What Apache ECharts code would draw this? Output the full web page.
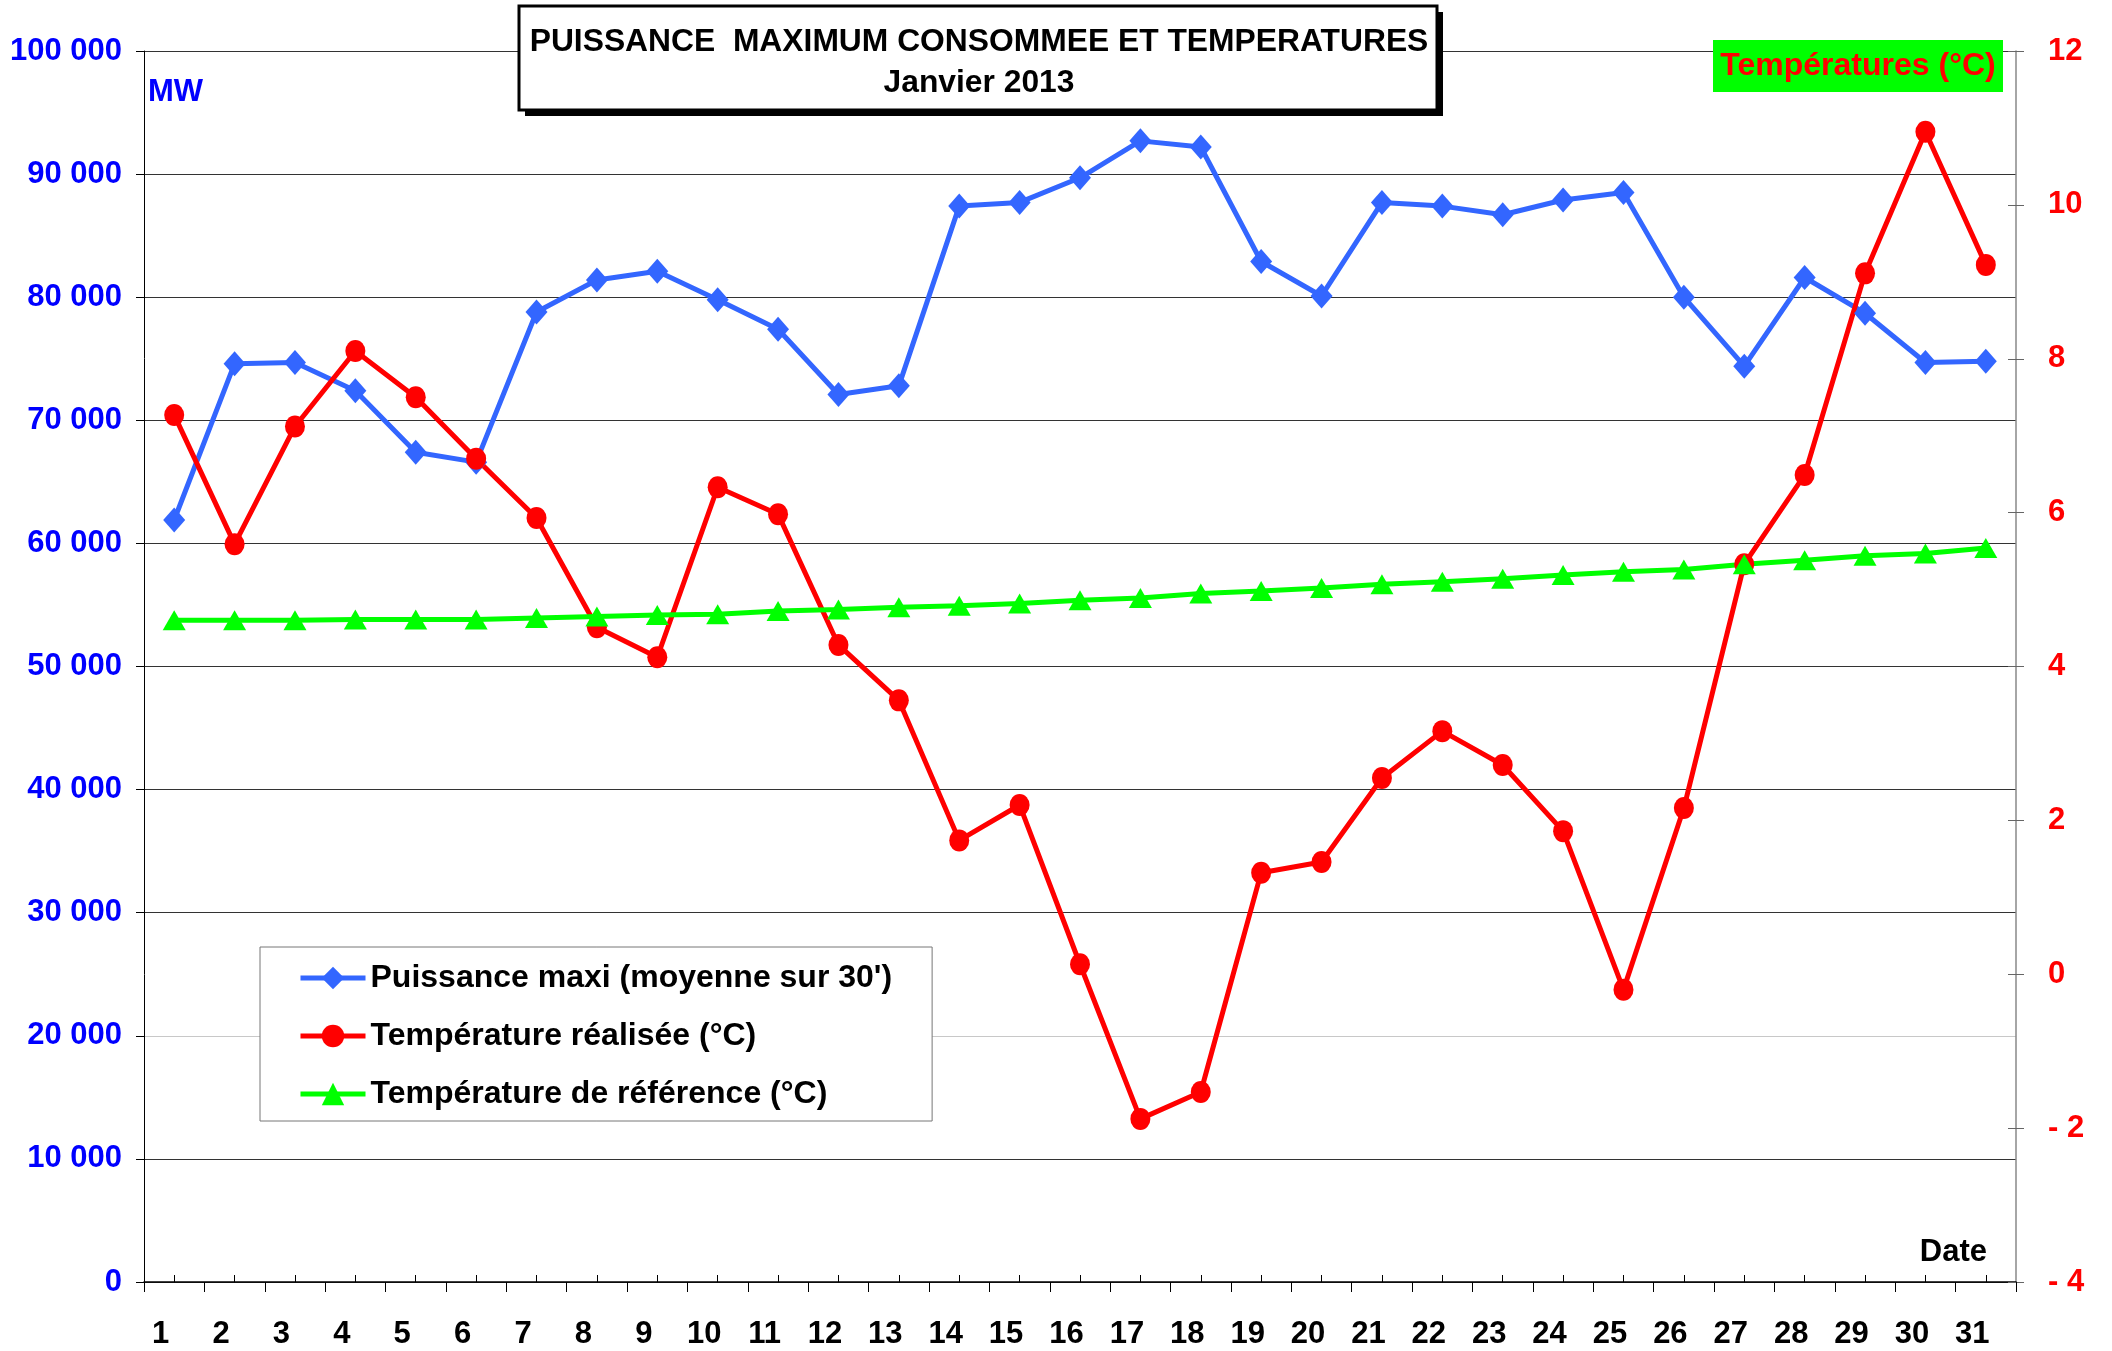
<!DOCTYPE html>
<html>
<head>
<meta charset="utf-8">
<title>Puissance maximum consommée et températures - Janvier 2013</title>
<script src="https://cdn.jsdelivr.net/npm/echarts@6/dist/echarts.min.js"></script>
<style>
  html, body { margin: 0; padding: 0; background: #fff; }
  #chart { width: 2112px; height: 1351px; }
</style>
</head>
<body>
<div id="chart"></div>
<script>
'use strict';
{
    // jours de janvier 2013
    const days = ['1','2','3','4','5','6','7','8','9','10','11','12','13','14','15','16',
        '17','18','19','20','21','22','23','24','25','26','27','28','29','30','31'];
    // puissance maxi (MW, moyenne sur 30')
    const puissance = [61900, 74600, 74700, 72400, 67400, 66600, 78800, 81400, 82100, 79800,
        77400, 72100, 72800, 87400, 87700, 89700, 92700, 92200, 82900, 80100,
        87700, 87400, 86700, 87900, 88500, 80000, 74400, 81600, 78700, 74700, 74800];
    // température réalisée (°C)
    const tempRealisee = [7.27, 5.59, 7.12, 8.10, 7.50, 6.70, 5.93, 4.51, 4.12, 6.33,
        5.98, 4.28, 3.56, 1.74, 2.20, 0.13, -1.88, -1.53, 1.32, 1.46,
        2.55, 3.16, 2.72, 1.86, -0.20, 2.16, 5.33, 6.49, 9.11, 10.95, 9.22];
    // température de référence (°C)
    const tempReference = [4.60, 4.60, 4.60, 4.61, 4.61, 4.61, 4.63, 4.65, 4.67, 4.68,
        4.72, 4.74, 4.77, 4.79, 4.82, 4.86, 4.89, 4.95, 4.98, 5.02,
        5.07, 5.10, 5.14, 5.19, 5.23, 5.26, 5.33, 5.38, 5.44, 5.47, 5.54];

    const mwRange = [0, 100000, 10000];
    const tempRange = [-4, 12, 2];

    const FONT = "'Liberation Sans', Arial, sans-serif";
    const dom = document.getElementById('chart');
    const myChart = echarts.init(dom, null, { renderer: 'canvas' });

    const gridColors = ['#333', '#333', '#c8c8c8', '#333', '#333', '#333', '#333', '#333', '#333', '#333', '#333'];

    const option = {
        backgroundColor: '#fff',
        animation: false,
        textStyle: { fontFamily: FONT, fontWeight: 'bold' },
        grid: { left: 144, right: 96, top: 51, bottom: 69 },
        legend: {
            orient: 'vertical',
            left: 260,
            top: 947,
            padding: [15, 40, 11, 38],
            itemGap: 26,
            itemWidth: 65,
            itemHeight: 28,
            backgroundColor: '#fff',
            borderColor: '#777',
            borderWidth: 1,
            borderRadius: 0,
            lineStyle: { width: 5 },
            textStyle: { color: '#000', fontSize: 32, fontWeight: 'bold', fontFamily: FONT, lineHeight: 32 },
            data: ['Puissance maxi (moyenne sur 30\')', 'Température réalisée (°C)', 'Température de référence (°C)']
        },
        xAxis: [{
            type: 'category',
            data: days,
            boundaryGap: true,
            axisLine: { onZero: false, lineStyle: { color: '#000', width: 1.5 } },
            axisTick: { show: true, inside: false, length: 10, lineStyle: { color: '#000' } },
            axisLabel: {
                color: '#000', fontSize: 31, fontWeight: 'bold', fontFamily: FONT,
                margin: 37, padding: [0, 27, 0, 0], interval: 0
            },
            splitLine: { show: false }
        }, {
            type: 'category',
            data: days,
            position: 'bottom',
            boundaryGap: true,
            axisLine: { show: false, onZero: false },
            axisTick: { show: true, inside: true, alignWithLabel: true, length: 7, lineStyle: { color: '#000' } },
            axisLabel: { show: false },
            splitLine: { show: false }
        }],
        yAxis: [{
            type: 'value',
            position: 'left',
            min: mwRange[0], max: mwRange[1], interval: mwRange[2],
            axisLine: { show: true, lineStyle: { color: '#000', width: 1 } },
            axisTick: { show: true, length: 8, lineStyle: { color: '#000' } },
            axisLabel: {
                color: '#0000ff', fontSize: 31, fontWeight: 'bold', fontFamily: FONT, margin: 22,
                formatter: function (v) { return v === 0 ? '0' : (v / 1000) + ' 000'; }
            },
            splitLine: { show: true, lineStyle: { color: gridColors, width: 1.2 } }
        }, {
            type: 'value',
            position: 'right',
            min: tempRange[0], max: tempRange[1], interval: tempRange[2],
            axisLine: { show: true, lineStyle: { color: '#888', width: 1.5 } },
            axisTick: { show: true, length: 8, lineStyle: { color: '#666' } },
            axisLabel: {
                color: '#ff0000', fontSize: 31, fontWeight: 'bold', fontFamily: FONT, margin: 32,
                formatter: function (v) { return v < 0 ? '- ' + Math.abs(v) : String(v); }
            },
            splitLine: { show: false }
        }, {
            type: 'value',
            position: 'right',
            min: tempRange[0], max: tempRange[1], interval: tempRange[2],
            axisLine: { show: false },
            axisTick: { show: true, inside: true, length: 8, lineStyle: { color: '#666' } },
            axisLabel: { show: false },
            splitLine: { show: false }
        }],
        series: [{
            name: 'Puissance maxi (moyenne sur 30\')',
            type: 'line',
            yAxisIndex: 0,
            data: puissance,
            symbol: 'diamond',
            symbolSize: [22, 25],
            color: '#3366ff',
            lineStyle: { width: 5, color: '#3366ff' },
            itemStyle: { color: '#3366ff' }
        }, {
            name: 'Température réalisée (°C)',
            type: 'line',
            yAxisIndex: 1,
            data: tempRealisee,
            symbol: 'circle',
            symbolSize: [20, 22],
            color: '#ff0000',
            lineStyle: { width: 5, color: '#ff0000' },
            itemStyle: { color: '#ff0000' }
        }, {
            name: 'Température de référence (°C)',
            type: 'line',
            yAxisIndex: 1,
            data: tempReference,
            symbol: 'triangle',
            symbolSize: [23, 20],
            color: '#00ff00',
            lineStyle: { width: 5, color: '#00ff00' },
            itemStyle: { color: '#00ff00' }
        }],
        graphic: [
            // cadre du titre avec ombre
            { type: 'rect', z: 100, shape: { x: 525, y: 12, width: 918, height: 104 }, style: { fill: '#000' } },
            { type: 'rect', z: 101, shape: { x: 519, y: 6, width: 918, height: 104 }, style: { fill: '#fff', stroke: '#000', lineWidth: 3 } },
            { type: 'text', z: 102, x: 979, y: 42, style: {
                text: 'PUISSANCE  MAXIMUM CONSOMMEE ET TEMPERATURES', align: 'center', verticalAlign: 'middle',
                fill: '#000', font: 'bold 31.8px ' + FONT } },
            { type: 'text', z: 102, x: 979, y: 83, style: {
                text: 'Janvier 2013', align: 'center', verticalAlign: 'middle',
                fill: '#000', font: 'bold 31.8px ' + FONT } },
            // unité axe gauche
            { type: 'text', z: 102, x: 148, y: 92, style: {
                text: 'MW', align: 'left', verticalAlign: 'middle', fill: '#0000ff', font: 'bold 31px ' + FONT } },
            // étiquette axe droit
            { type: 'rect', z: 100, shape: { x: 1713, y: 40, width: 290, height: 52 }, style: { fill: '#00ff00' } },
            { type: 'text', z: 102, x: 1858, y: 66, style: {
                text: 'Températures (°C)', align: 'center', verticalAlign: 'middle', fill: '#ff0000', font: 'bold 32px ' + FONT } },
            // nom axe x
            { type: 'text', z: 102, x: 1987, y: 1252, style: {
                text: 'Date', align: 'right', verticalAlign: 'middle', fill: '#000', font: 'bold 31px ' + FONT } }
        ]
    };

    if (option && typeof option === 'object') {
        myChart.setOption(option, true);
    }
}
</script>
</body>
</html>
